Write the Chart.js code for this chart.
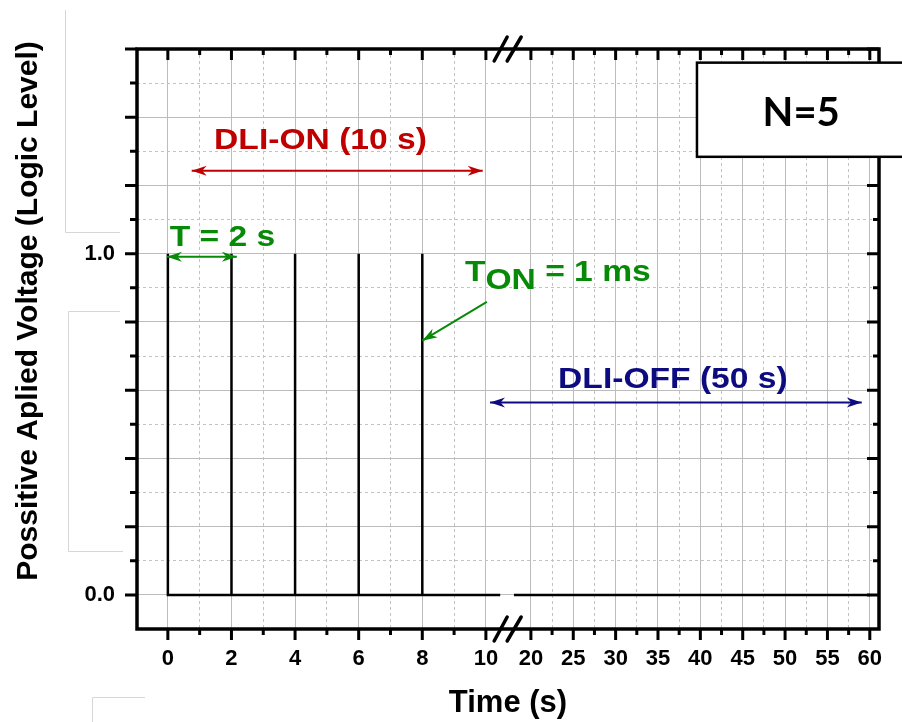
<!DOCTYPE html>
<html>
<head>
<meta charset="utf-8">
<title>DLI pulse train, N=5</title>
<script src="https://cdn.jsdelivr.net/npm/chart.js@4.4.1/dist/chart.umd.min.js"></script>
<style>
  html, body { margin: 0; padding: 0; background: #fff; }
  #box { position: relative; width: 902px; height: 722px; }
</style>
</head>
<body>
<div id="box"><canvas id="pulses"></canvas></div>
<script>
// DLI-ON phase: 1 ms pulses every 2 s (time in s, logic level)
var onTime = [0, 0, 0.001, 0.001, 2, 2, 2.001, 2.001, 4, 4, 4.001, 4.001, 6, 6, 6.001, 6.001, 8, 8, 8.001, 8.001, 10.45];
var onVolt = [0, 1, 1, 0, 0, 1, 1, 0, 0, 1, 1, 0, 0, 1, 1, 0, 0, 1, 1, 0, 0];
// DLI-OFF phase, after the axis break
var offTime = [18, 60];
var offVolt = [0, 0];

var xMajor = [0, 2, 4, 6, 8, 10, 20, 25, 30, 35, 40, 45, 50, 55, 60];
var xMinor = [1, 3, 5, 7, 9, 22.5, 27.5, 32.5, 37.5, 42.5, 47.5, 52.5, 57.5];
var yMajor = [0, 0.2, 0.4, 0.6, 0.8, 1.0, 1.2, 1.4, 1.6];
var yMinor = [0.1, 0.3, 0.5, 0.7, 0.9, 1.1, 1.3, 1.5];
var yLabelled = [0, 1];

(function(){
  "use strict";

  // broken time axis: 0-10 s full scale, 20-60 s squeezed after the gap
  function toAxis(t){
    return t <= 10.7 ? t : 11.415 + (t - 20) * 0.2664;
  }
  function points(ts, vs){
    return ts.map(function(t, i){ return {x: toAxis(t), y: vs[i]}; });
  }

  var bold = function(size){ return {family: 'Liberation Sans', weight: 'bold', size: size}; };
  var xMin = -0.97, xMax = 22.36;
  var SX = 1.12; // the original labels are a bit wide

  function arrowHead(ctx, x, y, dx, dy, len, half){
    var l = Math.sqrt(dx * dx + dy * dy), ux = dx / l, uy = dy / l;
    ctx.beginPath();
    ctx.moveTo(x, y);
    ctx.lineTo(x - ux * len - uy * half, y - uy * len + ux * half);
    ctx.lineTo(x - ux * len * 0.7, y - uy * len * 0.7);
    ctx.lineTo(x - ux * len + uy * half, y - uy * len - ux * half);
    ctx.closePath();
    ctx.fill();
  }
  function arrow(ctx, x1, y1, x2, y2, color, w, both){
    ctx.save();
    ctx.strokeStyle = color; ctx.fillStyle = color; ctx.lineWidth = w;
    ctx.beginPath(); ctx.moveTo(x1, y1); ctx.lineTo(x2, y2); ctx.stroke();
    arrowHead(ctx, x2, y2, x2 - x1, y2 - y1, 15, 5);
    if (both) arrowHead(ctx, x1, y1, x1 - x2, y1 - y2, 15, 5);
    ctx.restore();
  }
  function wideText(ctx, text, x, y, align){
    ctx.save();
    ctx.translate(x, y);
    ctx.scale(SX, 1);
    ctx.textAlign = align;
    ctx.fillText(text, 0, 0);
    ctx.restore();
    return ctx.measureText(text).width * SX;
  }

  var frame = {
    id: 'frame',
    afterDraw: function(chart){
      var ctx = chart.ctx, a = chart.chartArea;
      var xs = chart.scales.x, ys = chart.scales.y;
      function px(t){ return xs.getPixelForValue(toAxis(t)); }
      function py(v){ return ys.getPixelForValue(v); }
      ctx.save();

      // faint leftover boxes on the left margin
      ctx.strokeStyle = '#d6d6d6'; ctx.lineWidth = 1;
      ctx.beginPath();
      ctx.moveTo(65.5, 10); ctx.lineTo(65.5, 232.5); ctx.lineTo(120, 232.5);
      ctx.moveTo(120, 311.5); ctx.lineTo(68.5, 311.5); ctx.lineTo(68.5, 551.5); ctx.lineTo(123, 551.5);
      ctx.moveTo(92.5, 722); ctx.lineTo(92.5, 697.5); ctx.lineTo(145, 697.5);
      ctx.stroke();

      // tick marks: out on left/bottom, in on top/right
      ctx.strokeStyle = '#000'; ctx.lineWidth = 3;
      ctx.beginPath();
      xMajor.forEach(function(t){
        var x = px(t);
        ctx.moveTo(x, a.bottom); ctx.lineTo(x, a.bottom + 11);
        ctx.moveTo(x, a.top); ctx.lineTo(x, a.top + 11);
      });
      xMinor.forEach(function(t){
        var x = px(t);
        ctx.moveTo(x, a.bottom); ctx.lineTo(x, a.bottom + 6);
        ctx.moveTo(x, a.top); ctx.lineTo(x, a.top + 6);
      });
      yMajor.forEach(function(v){
        var y = py(v);
        ctx.moveTo(a.left - 12, y); ctx.lineTo(a.left, y);
        ctx.moveTo(a.right - 12, y); ctx.lineTo(a.right, y);
      });
      yMinor.forEach(function(v){
        var y = py(v);
        ctx.moveTo(a.left - 7, y); ctx.lineTo(a.left, y);
        ctx.moveTo(a.right - 6, y); ctx.lineTo(a.right, y);
      });
      ctx.stroke();

      // axis frame
      ctx.lineWidth = 3.5;
      ctx.strokeRect(a.left, a.top, a.right - a.left, a.bottom - a.top);

      // break marks //
      var bx = xs.getPixelForValue(10.7);
      ctx.lineCap = 'round';
      ctx.beginPath();
      [a.top, a.bottom].forEach(function(y){
        ctx.moveTo(bx - 14, y + 12); ctx.lineTo(bx - 1, y - 12);
        ctx.moveTo(bx - 1, y + 12); ctx.lineTo(bx + 13, y - 12);
      });
      ctx.stroke();
      ctx.lineCap = 'butt';

      // y title
      ctx.save();
      ctx.translate(29, 311);
      ctx.rotate(-Math.PI / 2);
      ctx.fillStyle = '#000';
      ctx.font = 'bold 30px "Liberation Sans"';
      ctx.textAlign = 'center'; ctx.textBaseline = 'middle';
      ctx.fillText('Possitive Aplied Voltage (Logic Level)', 0, 0);
      ctx.restore();

      // DLI-ON
      ctx.font = 'bold 30px "Liberation Sans"';
      ctx.textBaseline = 'alphabetic';
      ctx.fillStyle = '#c00000';
      wideText(ctx, 'DLI-ON (10 s)', px(4.8), py(1.308), 'center');
      arrow(ctx, px(0.75), py(1.243), px(9.9), py(1.243), '#c00000', 2, true);

      // T = 2 s
      ctx.fillStyle = '#078a07';
      wideText(ctx, 'T = 2 s', px(0.06), py(1.023), 'left');
      arrow(ctx, px(-0.03), py(0.991), px(2.17), py(0.991), '#078a07', 2, true);

      // T_ON = 1 ms
      var tx = px(9.34), ty = py(0.921);
      tx += wideText(ctx, 'T', tx, ty, 'left');
      tx += wideText(ctx, 'ON', tx, ty + 8, 'left');
      wideText(ctx, ' = 1 ms', tx, ty, 'left');
      arrow(ctx, px(10.03), py(0.859), px(8.0), py(0.745), '#078a07', 2, false);

      // DLI-OFF
      ctx.fillStyle = '#0c0c80';
      wideText(ctx, 'DLI-OFF (50 s)', px(36.76), py(0.607), 'center');
      arrow(ctx, px(10.13), py(0.564), px(59.05), py(0.564), '#0c0c80', 2, true);

      // N=5 box
      var bl = px(39.6), bt = py(1.56), bb = py(1.284);
      ctx.fillStyle = '#fff';
      ctx.fillRect(bl, bt, chart.width + 10 - bl, bb - bt);
      ctx.strokeStyle = '#000'; ctx.lineWidth = 2.5;
      ctx.strokeRect(bl, bt, chart.width + 10 - bl, bb - bt);
      ctx.fillStyle = '#000';
      ctx.font = 'bold 40px Lato';
      ctx.textAlign = 'center';
      ctx.fillText('N=5', px(51.9), py(1.375));

      ctx.restore();
    }
  };

  new Chart(document.getElementById('pulses'), {
    type: 'line',
    data: {
      datasets: [{
        label: 'DLI-ON',
        data: points(onTime, onVolt),
        borderColor: '#000',
        borderWidth: 2.5,
        pointRadius: 0,
        tension: 0,
        xAxisID: 'x', yAxisID: 'y'
      }, {
        label: 'DLI-OFF',
        data: points(offTime, offVolt),
        borderColor: '#000',
        borderWidth: 2.5,
        pointRadius: 0,
        tension: 0,
        xAxisID: 'x', yAxisID: 'y'
      }]
    },
    options: {
      responsive: true,
      maintainAspectRatio: false,
      animation: false,
      layout: {padding: {top: 49, right: 23, left: 0, bottom: 0}},
      plugins: {legend: {display: false}, tooltip: {enabled: false}},
      scales: {
        x: {
          type: 'linear', position: 'bottom', min: xMin, max: xMax,
          afterBuildTicks: function(s){ s.ticks = xMajor.map(function(t){ return {value: toAxis(t)}; }); },
          afterFit: function(s){ s.height = 93; },
          ticks: {
            autoSkip: false, maxRotation: 0, padding: 17, color: '#000', font: bold(22),
            callback: function(v, i){ return xMajor[i]; }
          },
          grid: {color: '#bcbcbc', lineWidth: 1, drawTicks: false},
          border: {display: false},
          title: {display: true, text: 'Time (s)', color: '#000', font: bold(31), padding: 0}
        },
        xm: {
          type: 'linear', position: 'top', min: xMin, max: xMax,
          afterBuildTicks: function(s){ s.ticks = xMinor.map(function(t){ return {value: toAxis(t)}; }); },
          afterFit: function(s){ s.height = 0; },
          ticks: {display: false},
          grid: {color: '#c2c2c2', lineWidth: 1, drawTicks: false},
          border: {display: false, dash: [3, 3]}
        },
        y: {
          type: 'linear', position: 'left', min: -0.1, max: 1.6,
          afterBuildTicks: function(s){ s.ticks = yMajor.map(function(v){ return {value: v}; }); },
          afterFit: function(s){ s.width = 137; },
          ticks: {
            padding: 22, color: '#000', font: bold(22),
            callback: function(v){ return yLabelled.indexOf(v) >= 0 ? v.toFixed(1) : ''; }
          },
          grid: {color: '#bcbcbc', lineWidth: 1, drawTicks: false},
          border: {display: false}
        },
        ym: {
          type: 'linear', position: 'right', min: -0.1, max: 1.6,
          afterBuildTicks: function(s){ s.ticks = yMinor.map(function(v){ return {value: v}; }); },
          afterFit: function(s){ s.width = 0; },
          ticks: {display: false},
          grid: {color: '#c2c2c2', lineWidth: 1, drawTicks: false},
          border: {display: false, dash: [3, 3]}
        }
      }
    },
    plugins: [frame]
  });
})();
</script>
</body>
</html>
